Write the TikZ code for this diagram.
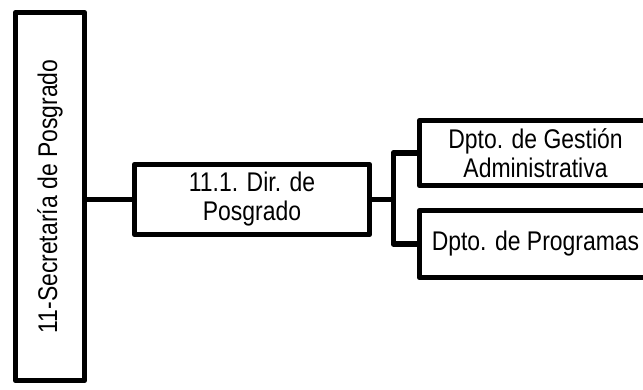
\documentclass[tikz,border=0pt]{standalone}
\usepackage{fontspec}
\setmainfont{Liberation Sans}[FakeStretch=0.85]
\begin{document}
\begin{tikzpicture}[x=1pt, y=-1pt, line width=5.5pt, line join=round,
    box/.style={draw, align=center, inner sep=0pt, font=\fontsize{27}{29}\selectfont}]
        % Page frame
        \clip (0,0) rectangle (643,390);

        % Secretaria (tall box on the left)
        \node[box, rotate=90, minimum width=368pt, minimum height=69pt] (sec) at (50,196.5) {11-Secretaría de Posgrado};

        % Direccion
        \node[box, minimum width=235pt, minimum height=70pt] (dir) at (252,199.5) {11.1. Dir. de\\Posgrado};

        % Departamentos
        \node[box, minimum width=232pt, minimum height=65pt] (ges) at (535.5,153) {Dpto. de Gestión\\Administrativa};
        \node[box, minimum width=232pt, minimum height=67pt] (prog) at (535.5,244) {Dpto. de Programas};

        % Connectors
        \draw (sec.south |- dir.west) -- (dir.west);
        \draw (dir.east) -- ++(21,0) coordinate (bus);
        \draw (ges.west) -| (bus) |- (prog.west);

      \end{tikzpicture}
\end{document}
